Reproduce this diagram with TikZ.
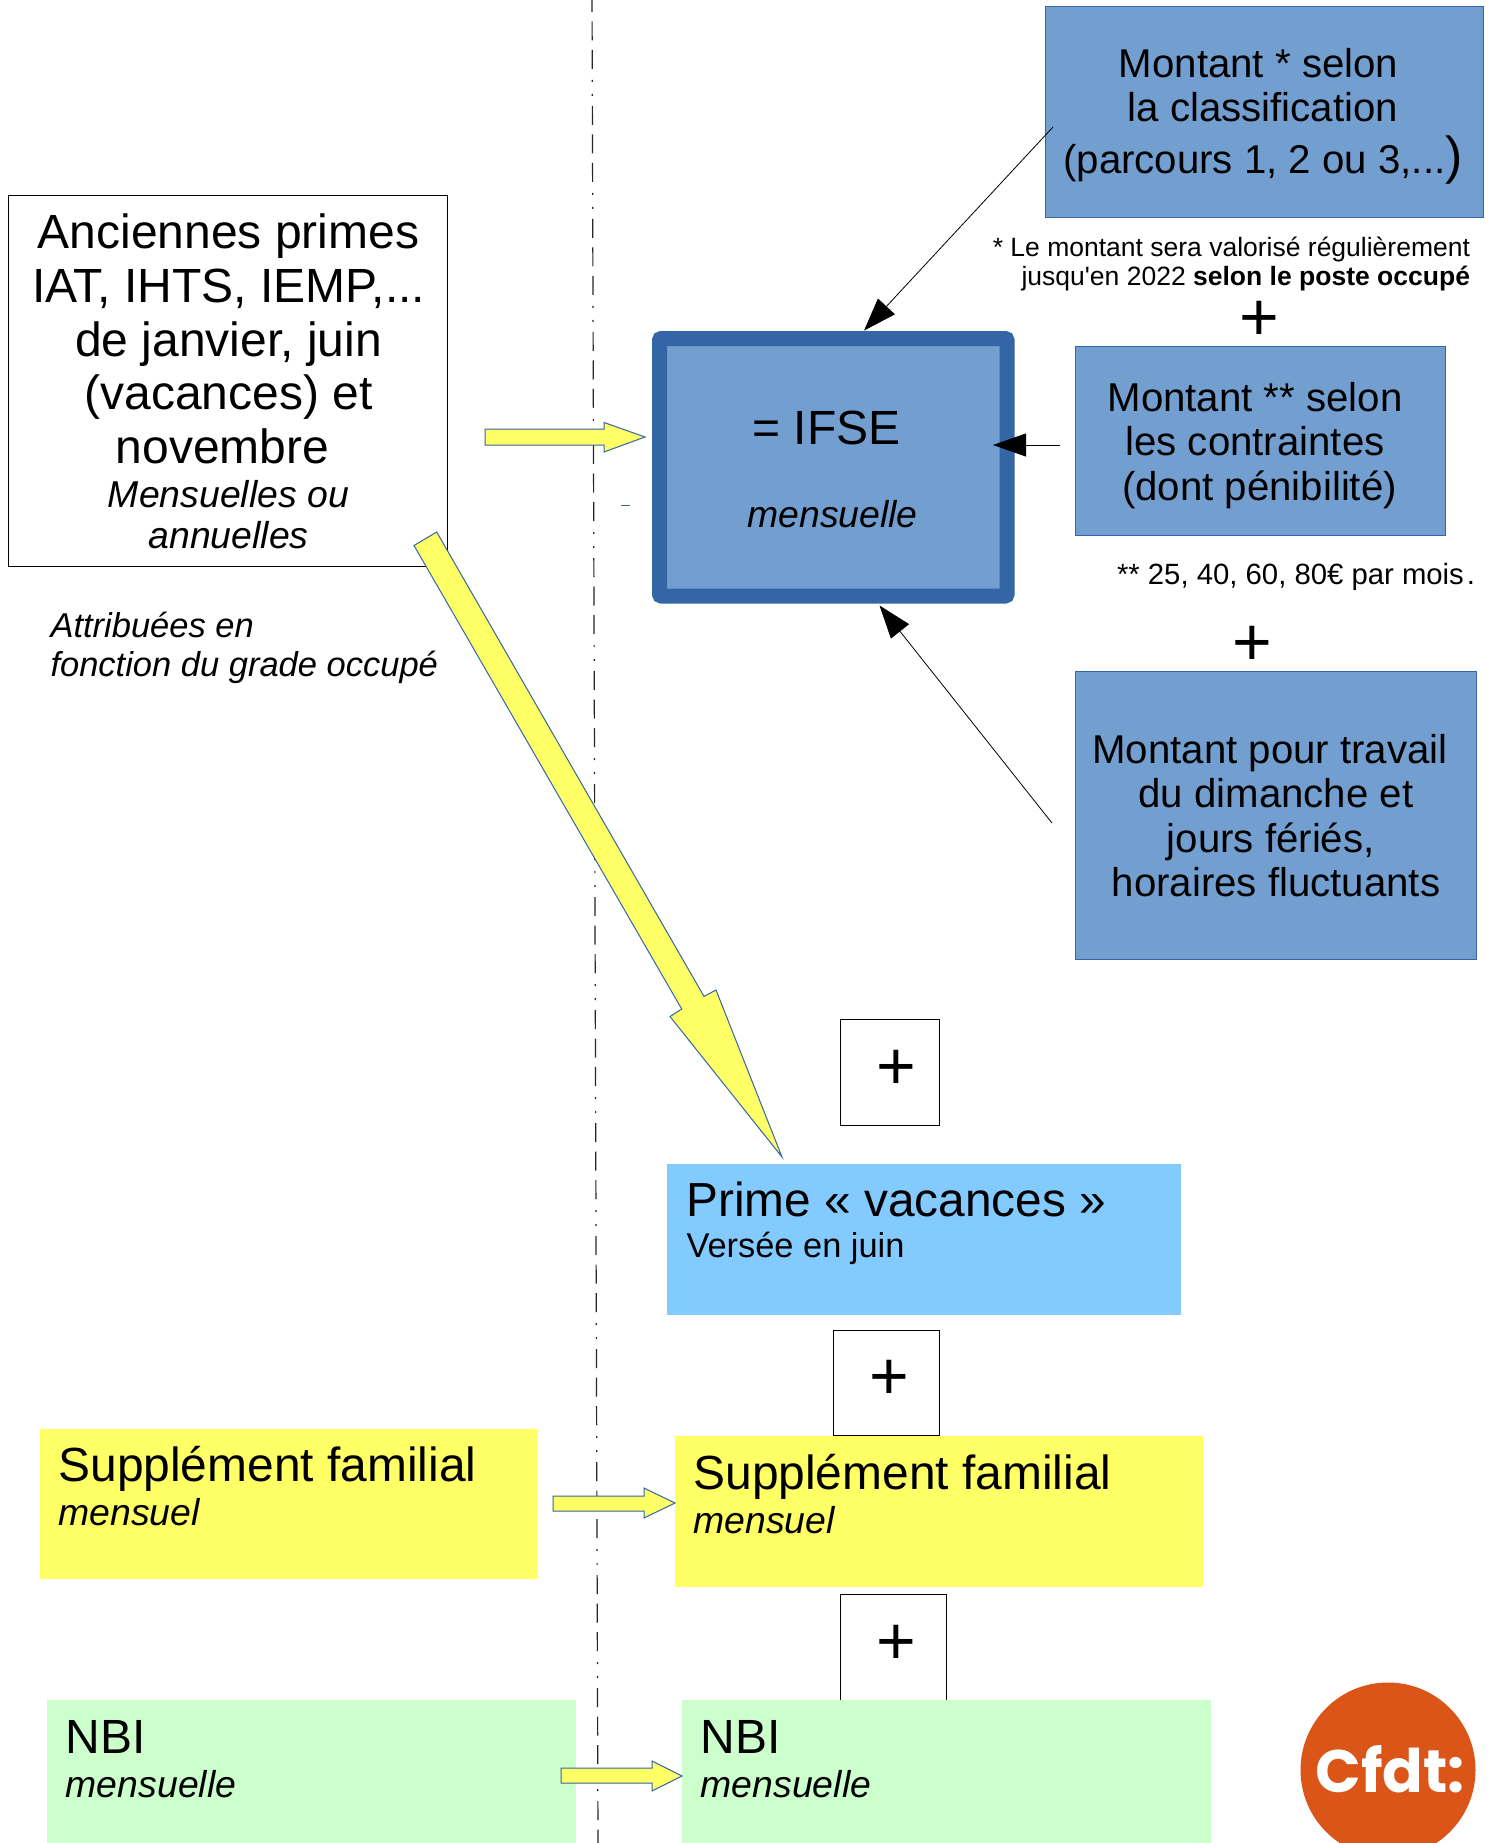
\documentclass[tikz,border=0pt]{standalone}
\usepackage{fontspec}
\setmainfont{Liberation Sans}
\newfontfamily\logofont{Poppins}
\usetikzlibrary{arrows.meta}
\definecolor{steel}{HTML}{729FCF}
\definecolor{steeldark}{HTML}{3465A4}
\definecolor{skyb}{HTML}{83CAFF}
\definecolor{yel}{HTML}{FFFF66}
\definecolor{mint}{HTML}{CCFFCC}
\definecolor{cfdt}{HTML}{DA5517}
\newcommand{\fs}[2]{\fontsize{#1}{#2}\selectfont}
\newcommand{\rbox}[6]{\node[#1,minimum width={(#4-#2)*1pt},minimum height={(#5-#3)*1pt}] (#6) at ({(#2+#4)/2},{(#3+#5)/2}) {};}
\tikzset{
  basebox/.style={rectangle,inner sep=0pt,outer sep=0pt},
  bluebox/.style={basebox,fill=steel,draw=steeldark,line width=1pt},
  ifsebox/.style={basebox,fill=steel,draw=steeldark,line width=15pt,rounded corners=2pt},
  plainbox/.style={basebox,fill=white,draw=black,line width=1pt},
  skybox/.style={basebox,fill=skyb},
  yelbox/.style={basebox,fill=yel},
  greenbox/.style={basebox,fill=mint},
  txt/.style={inner sep=0pt,outer sep=0pt,align=center,text=black},
  ltxt/.style={inner sep=0pt,outer sep=0pt,align=left,anchor=west,text=black},
  thinarrow/.style={line width=0.8pt,draw=black,-{Triangle[length=33pt,width=23pt,fill=black]}},
  yarrow/.style={fill=yel,draw=steeldark,line width=1pt,line join=miter},
  axisline/.style={line width=1.2pt,draw=black!85,dash pattern=on 19pt off 9.5pt on 19pt off 9.5pt on 19pt off 11pt on 2pt off 12pt on 2pt off 10pt},
}
\begin{document}
\begin{tikzpicture}[x=1pt,y=-1pt]
\useasboundingbox (0,0) rectangle (1492,1843);
\clip (0,0) rectangle (1492,1843);
\fill[white] (0,0) rectangle (1492,1843);
% axis
\coordinate (axtop) at (592,-7);
\coordinate (axbot) at (598,1843);
\draw[axisline] (axtop) -- (axbot);
% boxes
\rbox{bluebox}{1045}{7}{1483}{218}{m1}
\rbox{ifsebox}{659.5}{338.5}{1007}{596}{ifse}
\rbox{bluebox}{1075}{346.5}{1445}{535.5}{m2}
\rbox{bluebox}{1075}{671}{1476}{959}{m3}
\rbox{plainbox}{8.5}{195.5}{447}{566.5}{old}
\rbox{plainbox}{840.5}{1019}{939}{1125}{p1}
\rbox{skybox}{666.5}{1164}{1181}{1314.5}{prime}
\rbox{plainbox}{833}{1330}{939}{1435.5}{p2}
\rbox{yelbox}{39.5}{1428.5}{537.5}{1579}{suppl}
\rbox{yelbox}{674.5}{1435.5}{1203}{1587}{suppr}
\rbox{plainbox}{840}{1594}{946.5}{1700}{p3}
\rbox{greenbox}{47}{1700}{576}{1850}{nbil}
\rbox{greenbox}{682}{1700}{1211}{1850}{nbir}
% texts
\node[txt,font=\fs{40.2}{44.5}] (m1t) at (1263,116) {Montant * selon\hspace*{9pt}\\la classification\\[7pt](parcours 1, 2 ou 3,...{\fs{52}{44.5})}};
\node[txt,font=\fs{26.5}{29.5},align=right,anchor=east] (note1) at (1470,264) {* Le montant sera valorisé régulièrement\\jusqu\textquotesingle en 2022 \textbf{selon le poste occupé}};
\node[txt,font=\fs{68}{68}] (plus0) at (1259,320.5) {+};
\node[txt,font=\fs{48}{54}] (ifset) at (826.5,428) {= IFSE};
\node[txt,font=\fs{37.4}{41}\itshape] (ifsem) at (832.5,514) {mensuelle};
\node[txt,font=\fs{40.2}{44.5}] (m2t) at (1255,445.2) {Montant ** selon\\les contraintes\\\hspace*{9pt}(dont pénibilité)};
\node[ltxt,font=\fs{29.3}{32}] (note2) at (1117,576.5) {** 25, 40, 60, 80€ par mois\hspace{3pt}.};
\node[txt,font=\fs{68}{68}] (plus1) at (1252,645.5) {+};
\node[txt,font=\fs{40.2}{44.5}] (m3t) at (1276,815.5) {Montant pour travail\hspace*{12pt}\\du dimanche et\\jours fériés,\makebox[10.5pt]{}\\horaires fluctuants};
\node[txt,font=\fs{48}{53.7}] (oldt) at (228.5,339) {Anciennes primes\\IAT, IHTS, IEMP,...\\de janvier, juin\\(vacances) et\\novembre\hspace*{12pt}};
\node[txt,font=\fs{37.4}{41}\itshape] (oldi) at (228.5,515) {Mensuelles ou\\annuelles};
\node[ltxt,font=\fs{34.5}{39}\itshape] (attr) at (50.5,647.5) {Attribuées en\\fonction du grade occupé};
\node[txt,font=\fs{68}{68}] (plusA) at (896.5,1069.5) {+};
\node[txt,font=\fs{68}{68}] (plusB) at (889,1379.5) {+};
\node[txt,font=\fs{68}{68}] (plusC) at (896.5,1644.5) {+};
\node[ltxt,font=\fs{47.8}{54}] (primet) at (686.5,1199) {Prime « vacances »};
\node[ltxt,font=\fs{34.4}{40}] (primes) at (686.5,1248) {Versée en juin};
\node[ltxt,font=\fs{47.9}{54}] (supplt) at (58.5,1468.5) {Supplément familial};
\node[ltxt,font=\fs{37.4}{41}\itshape] (suppls) at (58.5,1512) {mensuel};
\node[ltxt,font=\fs{47.9}{54}] (supprt) at (693.5,1476.5) {Supplément familial};
\node[ltxt,font=\fs{37.4}{41}\itshape] (supprs) at (693.5,1520.5) {mensuel};
\node[ltxt,font=\fs{48}{54}] (nbilt) at (65.8,1737) {NBI};
\node[ltxt,font=\fs{37.4}{41}\itshape] (nbils) at (65.8,1784) {mensuelle};
\node[ltxt,font=\fs{48}{54}] (nbirt) at (700.7,1737) {NBI};
\node[ltxt,font=\fs{37.4}{41}\itshape] (nbirs) at (700.7,1784) {mensuelle};
% thin arrows
\coordinate (a1s) at (1053,127);
\coordinate (a1e) at (864,330.6);
\coordinate (a2s) at (1060,445);
\coordinate (a2e) at (993,445);
\coordinate (a3s) at (1052,823);
\coordinate (a3e) at (879.5,605.5);
\draw[thinarrow] (a1s) -- (a1e);
\draw[thinarrow] (a2s) -- (a2e);
\draw[thinarrow] (a3s) -- (a3e);
% yellow arrows
\draw[yarrow] (485,429) -- (604,429) -- (604,422.5) -- (645,437) -- (604,452) -- (604,445) -- (485,445) -- cycle;
\draw[yarrow] (414,545.5) -- (436.7,532) -- (704,996.4) -- (716,990) -- (782,1157) -- (670,1016.5) -- (681.7,1009) -- cycle;
\draw[yarrow] (553,1496) -- (644,1496) -- (644,1488) -- (675,1503) -- (644,1518) -- (644,1511) -- (553,1511) -- cycle;
\draw[yarrow] (561,1768) -- (652,1768) -- (652,1761) -- (682,1776) -- (652,1791) -- (652,1783) -- (561,1783) -- cycle;
\draw[steeldark,line width=1pt] (621,505) -- (630,505);
% logo
\node[circle,fill=cfdt,inner sep=0pt,minimum size=175pt] (logo) at (1388,1770) {};
\node[inner sep=0pt,text=white,font=\fs{60}{60}\logofont\bfseries] (logot) at (1390,1769) {Cfdt:};
\end{tikzpicture}
\end{document}
